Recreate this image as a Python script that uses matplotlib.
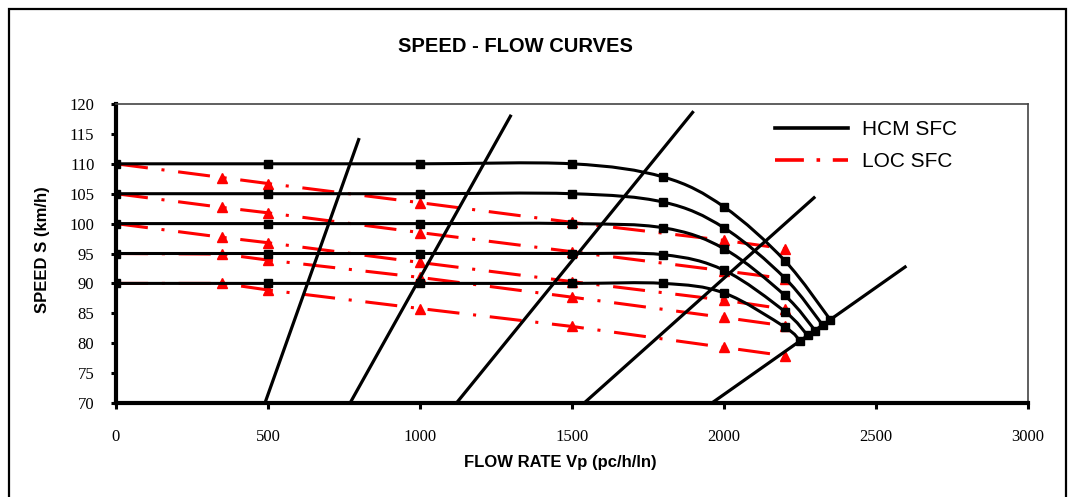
import matplotlib
matplotlib.use("Agg")
import matplotlib.pyplot as plt
import numpy as np
from matplotlib.path import Path
from matplotlib.patches import PathPatch, Rectangle
from matplotlib.lines import Line2D

# HCM speed-flow curves (square markers), one per free-flow speed
ffs = [110, 105, 100, 95, 90]
hcm_x = {
    110: [0, 500, 1000, 1500, 1800, 2000, 2200, 2350],
    105: [0, 500, 1000, 1500, 1800, 2000, 2200, 2325],
    100: [0, 500, 1000, 1500, 1800, 2000, 2200, 2300],
    95: [0, 500, 1000, 1500, 1800, 2000, 2200, 2275],
    90: [0, 500, 1000, 1500, 1800, 2000, 2200, 2250],
}
hcm_s = {
    110: [110, 110, 110, 110, 107.8, 102.8, 93.8, 83.9],
    105: [105, 105, 105, 105, 103.6, 99.3, 90.9, 83.0],
    100: [100, 100, 100, 100, 99.3, 95.8, 88.0, 82.1],
    95: [95, 95, 95, 95, 94.8, 92.2, 85.3, 81.3],
    90: [90, 90, 90, 90, 90.0, 88.4, 82.7, 80.4],
}

# local speed-flow curves (red, triangles)
loc_x = [0, 350, 500, 1000, 1500, 2000, 2200]
loc_s = {
    110: [110, 107.7, 106.7, 103.5, 100.2, 97.2, 95.8],
    105: [105, 102.7, 101.8, 98.5, 95.3, 92.1, 90.8],
    100: [100, 97.7, 96.8, 93.5, 90.3, 87.2, 85.7],
    95: [95, 94.9, 93.9, 91.0, 87.7, 84.3, 82.9],
    90: [90, 90.0, 88.9, 85.8, 82.8, 79.3, 77.9],
}

# density boundary lines
dens_x = [[490, 800], [770, 1300], [1120, 1900], [1540, 2300], [1960, 2600]]
dens_s = [[70, 114.3], [70, 118.2], [70, 118.8], [70, 104.5], [70, 92.9]]

x_ticks = [0, 500, 1000, 1500, 2000, 2500, 3000]
y_ticks = [70, 75, 80, 85, 90, 95, 100, 105, 110, 115, 120]

SANS = "Liberation Sans"
SERIF = "Liberation Serif"


def smooth_path(xs, ys):
    # excel-like smoothed line (catmull-rom as bezier)
    pts = np.column_stack([xs, ys]).astype(float)
    n = len(pts)
    verts = [pts[0]]
    codes = [Path.MOVETO]
    for i in range(n - 1):
        p0 = pts[i - 1] if i > 0 else pts[i]
        p1 = pts[i]
        p2 = pts[i + 1]
        p3 = pts[i + 2] if i + 2 < n else pts[i + 1]
        verts += [p1 + (p2 - p0) / 6, p2 - (p3 - p1) / 6, p2]
        codes += [Path.CURVE4] * 3
    return Path(verts, codes)


fig = plt.figure(figsize=(10.81, 4.97), dpi=100)
fig.patches.append(Rectangle((9 / 1081, -0.1), (1066 - 9) / 1081, 1 - 9 / 497 + 0.1,
                             transform=fig.transFigure, fill=False,
                             edgecolor="black", lw=1.6, zorder=0))

ax = fig.add_axes([116 / 1081, 1 - 403 / 497, (1028 - 116) / 1081, (403 - 104) / 497])

red_dash = (10.5, 4.5, 1, 4.5)
for f in ffs:
    ax.plot(loc_x, loc_s[f], color="red", lw=2.2, dashes=red_dash, zorder=2,
            solid_capstyle="butt", dash_capstyle="butt")
    # first point sits under the black square
    ax.plot(loc_x, loc_s[f], linestyle="none", marker="^", ms=6.5,
            color="red", zorder=2, markevery=slice(1, None))

for xs, ss in zip(dens_x, dens_s):
    ax.plot(xs, ss, color="black", lw=2.3, zorder=3, solid_capstyle="butt")

for f in ffs:
    ax.add_patch(PathPatch(smooth_path(hcm_x[f], hcm_s[f]), fill=False,
                           edgecolor="black", lw=2.2, zorder=4))
    ax.plot(hcm_x[f], hcm_s[f], linestyle="none", marker="s", ms=6.3,
            color="black", zorder=5)

ax.set_xlim(0, 3000)
ax.set_ylim(70, 120)
ax.set_xticks(x_ticks)
ax.set_yticks(y_ticks)
ax.set_xticklabels([str(v) for v in x_ticks], family=SERIF, fontsize=12)
ax.set_yticklabels([str(v) for v in y_ticks], family=SERIF, fontsize=12)
ax.tick_params(axis="y", direction="out", length=3.5, width=2.2, pad=12)
ax.tick_params(axis="x", direction="out", length=4, width=2.2, pad=15)

for side in ["left", "bottom"]:
    ax.spines[side].set_linewidth(3)
    ax.spines[side].set_color("black")
for side in ["top", "right"]:
    ax.spines[side].set_linewidth(1.2)
    ax.spines[side].set_color("#444444")

fig.text(42 / 1081, 1 - 250 / 497, "SPEED S (km/h)", rotation=90, ha="center", va="center",
         family=SANS, fontsize=12, fontweight="bold")
fig.text(560 / 1081, 1 - 463 / 497, "FLOW RATE Vp (pc/h/ln)", ha="center", va="center",
         family=SANS, fontsize=12, fontweight="bold")
fig.text(515 / 1081, 1 - 47 / 497, "SPEED - FLOW CURVES", ha="center", va="center",
         family=SANS, fontsize=14.5, fontweight="bold")

handles = [
    Line2D([], [], color="black", lw=2.6),
    Line2D([], [], color="red", lw=2.6, dashes=(8, 3.5, 1, 3.5)),
]
ax.legend(handles, ["HCM SFC", "LOC SFC"], loc="upper left",
          bbox_to_anchor=(775 / 1081, 1 - 120 / 497), bbox_transform=fig.transFigure,
          frameon=False, prop={"family": SANS, "size": 15}, handlelength=3.5,
          handletextpad=0.7, labelspacing=0.62, borderpad=0, borderaxespad=0)

fig.savefig("out.png", dpi=100)
